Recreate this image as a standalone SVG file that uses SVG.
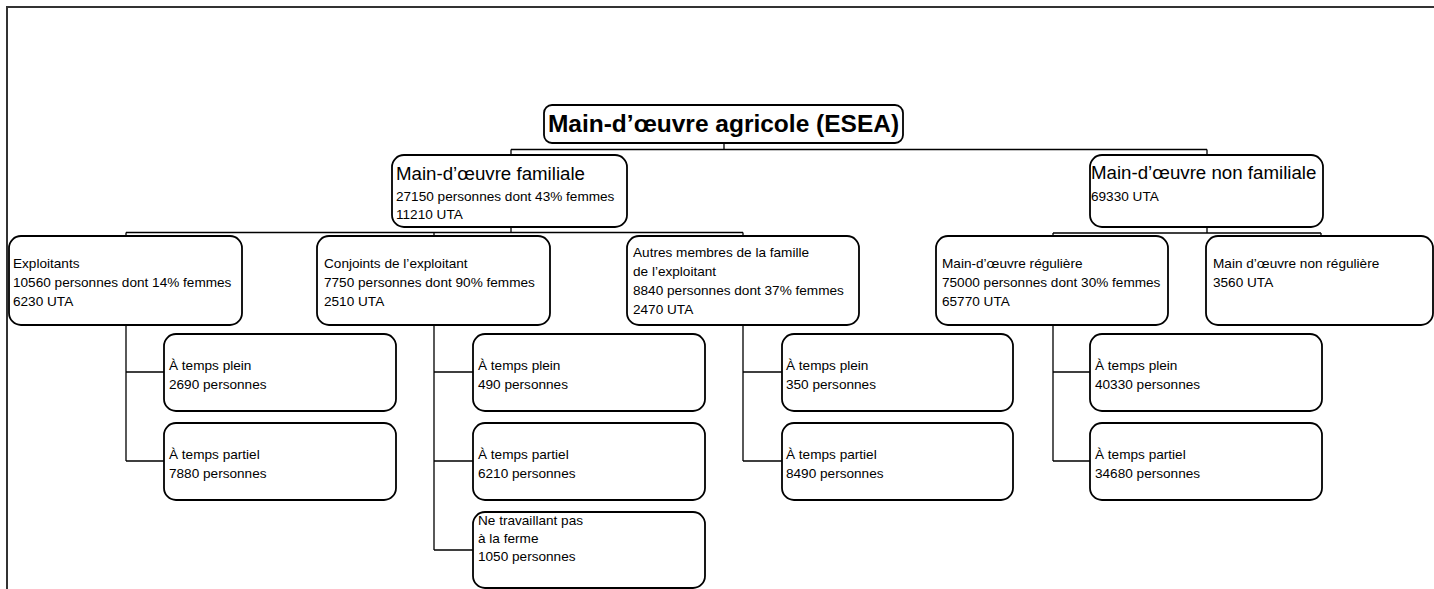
<svg xmlns="http://www.w3.org/2000/svg" width="1434" height="589" viewBox="0 0 1434 589">
<style>
.box{fill:#fff;stroke:#000;stroke-width:1.8}
.ln{fill:none;stroke:#000;stroke-width:1.3}
text{font-family:"Liberation Sans",Arial,sans-serif;fill:#000}
.t{font-size:13.6px}
.b{font-size:18.7px}
.h{font-size:24.5px;font-weight:bold}
</style>
<rect width="1434" height="589" fill="#fff"/>
<path d="M7 589 V7 H1434" fill="none" stroke="#333" stroke-width="2"/>
<g id="connectors" class="ln">
<path d="M724 143 V149.5 M511 149.5 H1207 M511 149.5 V155 M1207 149.5 V155"/>
<path d="M511 227 V232.5 M126 232.5 H743 M126 232.5 V236 M434 232.5 V236 M743 232.5 V236"/>
<path d="M1207 227 V233 M1053 233 H1321 M1053 233 V236.5 M1321 233 V236.5"/>
<path d="M126 325 V461 M126 372 H164 M126 461 H164"/>
<path d="M434 325 V550 M434 372 H473 M434 461 H473 M434 550 H473"/>
<path d="M743 325 V461 M743 372 H782 M743 461 H782"/>
<path d="M1053 325 V461 M1053 372 H1090 M1053 461 H1090"/>
</g>
<g id="title"><rect class="box" x="544" y="105" width="359" height="38" rx="8"/><text class="h" x="723.5" y="132" text-anchor="middle">Main-d’œuvre agricole (ESEA)</text></g>
<g id="familiale"><rect class="box" x="392" y="155" width="235" height="72" rx="12"/><text class="b" x="396" y="180">Main-d’œuvre familiale</text><text class="t" x="396" y="201">27150 personnes dont 43% femmes</text><text class="t" x="396" y="219">11210 UTA</text></g>
<g id="non-familiale"><rect class="box" x="1090" y="155" width="233" height="72" rx="12"/><text class="b" x="1091" y="179">Main-d’œuvre non familiale</text><text class="t" x="1091" y="201">69330 UTA</text></g>
<g id="exploitants"><rect class="box" x="9" y="236" width="233" height="89" rx="12"/><text class="t" x="13" y="267.5">Exploitants</text><text class="t" x="13" y="286.5">10560 personnes dont 14% femmes</text><text class="t" x="13" y="305.5">6230 UTA</text></g>
<g id="conjoints"><rect class="box" x="317" y="236" width="233" height="89" rx="12"/><text class="t" x="324" y="267.5">Conjoints de l’exploitant</text><text class="t" x="324" y="286.5">7750 personnes dont 90% femmes</text><text class="t" x="324" y="305.5">2510 UTA</text></g>
<g id="autres"><rect class="box" x="627" y="236" width="232" height="89" rx="12"/><text class="t" x="633" y="257">Autres membres de la famille</text><text class="t" x="633" y="276">de l’exploitant</text><text class="t" x="633" y="295">8840 personnes dont 37% femmes</text><text class="t" x="633" y="314">2470 UTA</text></g>
<g id="reguliere"><rect class="box" x="936" y="236" width="232" height="89" rx="12"/><text class="t" x="942" y="267.5">Main-d’œuvre régulière</text><text class="t" x="942" y="286.5">75000 personnes dont 30% femmes</text><text class="t" x="942" y="305.5">65770 UTA</text></g>
<g id="non-reguliere"><rect class="box" x="1206" y="236" width="227" height="89" rx="12"/><text class="t" x="1213" y="267.5">Main d’œuvre non régulière</text><text class="t" x="1213" y="286.5">3560 UTA</text></g>
<g id="expl-plein"><rect class="box" x="164" y="334" width="232" height="77" rx="12"/><text class="t" x="169" y="369.5">À temps plein</text><text class="t" x="169" y="388.5">2690 personnes</text></g>
<g id="expl-partiel"><rect class="box" x="164" y="423" width="232" height="77" rx="12"/><text class="t" x="169" y="458.5">À temps partiel</text><text class="t" x="169" y="477.5">7880 personnes</text></g>
<g id="conj-plein"><rect class="box" x="473" y="334" width="232" height="77" rx="12"/><text class="t" x="478" y="369.5">À temps plein</text><text class="t" x="478" y="388.5">490 personnes</text></g>
<g id="conj-partiel"><rect class="box" x="473" y="423" width="232" height="77" rx="12"/><text class="t" x="478" y="458.5">À temps partiel</text><text class="t" x="478" y="477.5">6210 personnes</text></g>
<g id="conj-ne"><rect class="box" x="473" y="512" width="232" height="76" rx="12"/><text class="t" x="478" y="525">Ne travaillant pas</text><text class="t" x="478" y="543">à la ferme</text><text class="t" x="478" y="561">1050 personnes</text></g>
<g id="autres-plein"><rect class="box" x="782" y="334" width="231" height="77" rx="12"/><text class="t" x="786" y="369.5">À temps plein</text><text class="t" x="786" y="388.5">350 personnes</text></g>
<g id="autres-partiel"><rect class="box" x="782" y="423" width="231" height="77" rx="12"/><text class="t" x="786" y="458.5">À temps partiel</text><text class="t" x="786" y="477.5">8490 personnes</text></g>
<g id="reg-plein"><rect class="box" x="1090" y="334" width="232" height="77" rx="12"/><text class="t" x="1095" y="369.5">À temps plein</text><text class="t" x="1095" y="388.5">40330 personnes</text></g>
<g id="reg-partiel"><rect class="box" x="1090" y="423" width="232" height="77" rx="12"/><text class="t" x="1095" y="458.5">À temps partiel</text><text class="t" x="1095" y="477.5">34680 personnes</text></g>
</svg>
